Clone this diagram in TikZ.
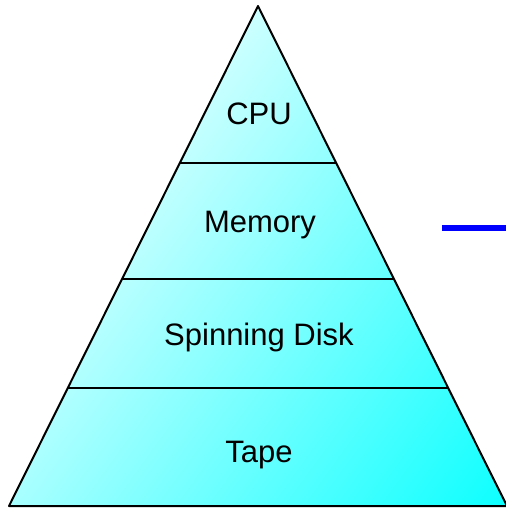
\documentclass[tikz,border=0pt]{standalone}
\usepackage{fontspec}
\setmainfont{Liberation Sans}
\usepackage{tikz}
\usetikzlibrary{calc}
\pgfdeclareverticalshading{pyramidshade}{100bp}{color(0bp)=(cyan); color(12bp)=(cyan); color(15.2bp)=(cyan!95!white); color(64.7bp)=(cyan!20!white); color(100bp)=(cyan!20!white)}

\begin{document}
\begin{tikzpicture}
    [
    x=1pt,y=-1pt,
    level/.style = {font=\fontsize{31}{37}\selectfont,text=black,anchor=base,inner sep=0pt},
    tier/.style = {line width=2pt,black}
    ]
\useasboundingbox (0,0) rectangle (506,509);
\coordinate (apex) at (258,6);
\coordinate (bl) at (9,506);
\coordinate (br) at (507,506);

\shade[shading=pyramidshade,shading angle=54] (apex) -- (bl) -- (br) -- cycle;
\draw[tier,line join=round] (apex) -- (bl) -- (br) -- cycle;

\draw[tier] ($(apex)!0.314!(bl)$) -- ($(apex)!0.314!(br)$);
\draw[tier] ($(apex)!0.546!(bl)$) -- ($(apex)!0.546!(br)$);
\draw[tier] ($(apex)!0.764!(bl)$) -- ($(apex)!0.764!(br)$);

\node[level] (cpu) at (259,124) {CPU};
\node[level] (mem) at (260,232) {Memory};
\node[level] (disk) at (259,345) {Spinning Disk};
\node[level] (tape) at (259,462) {Tape};

\coordinate (bar) at (442,228);
\coordinate (barend) at (506,228);
\draw[blue,line width=6.5pt] (bar) -- (barend);
\end{tikzpicture}
\end{document}
